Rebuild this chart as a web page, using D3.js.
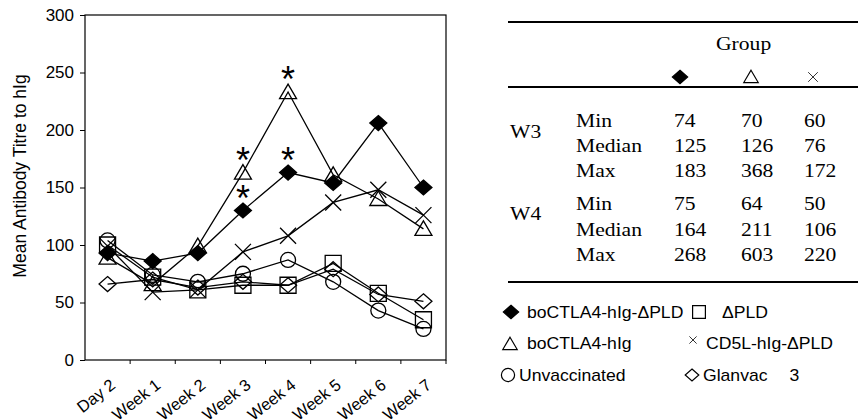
<!DOCTYPE html>
<html>
<head>
<meta charset="utf-8">
<title>Mean Antibody Titre to hIg</title>
<script src="https://cdn.jsdelivr.net/npm/d3@7"></script>
<style>
html, body { margin:0; padding:0; background:#fff; }
.sans { font-family: "Liberation Sans", Arial, sans-serif; }
.serif { font-family: "Liberation Serif", "Times New Roman", serif; }
</style>
</head>
<body>
<svg id="chart" width="861" height="420"></svg>
<script>
// time points on the x axis
var weeks = ["Day 2", "Week 1", "Week 2", "Week 3", "Week 4", "Week 5", "Week 6", "Week 7"];
var yTicks = [0, 50, 100, 150, 200, 250, 300];

// mean antibody titre per group
var ctlaPld   = [93, 86, 93, 130, 163, 154, 206, 150];  // filled diamond
var ctla      = [89, 66, 99, 163, 233, 161, 140, 114];  // triangle
var cd5lPld   = [99, 59, 61, 94, 108, 137, 148, 126];   // cross
var unvacc    = [104, 74, 68, 75, 87, 68, 43, 27];      // circle
var pld       = [100, 72, 61, 65, 65, 84, 58, 35];      // square
var glanvac   = [66, 70, 63, 68, 65, 79, 57, 51];       // open diamond

// weeks with a significance star
var starCtlaPld = ["Week 3", "Week 4"];
var starCtla = ["Week 3", "Week 4"];

// table beside the chart
var tableWeeks = ["W3", "W4"];
var statNames = ["Min", "Median", "Max"];
var w3Stats = [[74, 70, 60], [125, 126, 76], [183, 368, 172]];
var w4Stats = [[75, 64, 50], [164, 211, 106], [268, 603, 220]];

var series = [
	{ values: unvacc,  shape: "circle" },
	{ values: glanvac, shape: "dopen" },
	{ values: pld,     shape: "square" },
	{ values: cd5lPld, shape: "cross" },
	{ values: ctla,    shape: "tri" },
	{ values: ctlaPld, shape: "dfill" }
];

var svg = d3.select("#chart");
var x = d3.scaleBand().domain(weeks).range([85, 446]);
var y = d3.scaleLinear().domain([0, 300]).range([360, 15]);
function cx(w) { return x(w) + x.bandwidth() / 2; }

// marker outlines, s = scale factor
function shapePath(shape, s) {
	s = s || 1;
	if (shape == "dfill" || shape == "dopen")
		return "M0," + (-7.5*s) + "L" + (8.5*s) + ",0L0," + (7.5*s) + "L" + (-8.5*s) + ",0Z";
	if (shape == "tri")
		return "M0," + (-8*s) + "L" + (8.5*s) + "," + (6.5*s) + "L" + (-8.5*s) + "," + (6.5*s) + "Z";
	if (shape == "cross")
		return "M" + (-8*s) + "," + (-8*s) + "L" + (8*s) + "," + (8*s) + "M" + (-8*s) + "," + (8*s) + "L" + (8*s) + "," + (-8*s);
	if (shape == "square")
		return "M" + (-8*s) + "," + (-8*s) + "h" + (16*s) + "v" + (16*s) + "h" + (-16*s) + "Z";
	// circle
	var r = 7.5 * s;
	return "M" + (-r) + ",0a" + r + "," + r + " 0 1,0 " + (2*r) + ",0a" + r + "," + r + " 0 1,0 " + (-2*r) + ",0Z";
}
function drawMarker(g, shape, px, py, s, sw) {
	g.append("path")
		.attr("transform", "translate(" + px + "," + py + ")")
		.attr("d", shapePath(shape, s))
		.attr("fill", shape == "dfill" ? "#000" : "none")
		.attr("stroke", "#000")
		.attr("stroke-width", sw || 1.3);
}

// plot frame
svg.append("rect")
	.attr("x", 85).attr("y", 15)
	.attr("width", 446 - 85).attr("height", 345)
	.attr("fill", "none").attr("stroke", "#000").attr("stroke-width", 1.2);

// y axis
var yAxis = svg.append("g")
	.attr("transform", "translate(85,0)")
	.call(d3.axisLeft(y).tickValues(yTicks).tickSize(5).tickPadding(6));
yAxis.select(".domain").remove();
yAxis.selectAll("text").attr("class", "sans").attr("font-size", 17).attr("fill", "#000");

// x axis labels
var xAxis = svg.append("g")
	.attr("transform", "translate(0,360)")
	.call(d3.axisBottom(x).tickSize(0));
xAxis.select(".domain").remove();
xAxis.selectAll("text")
	.attr("class", "sans").attr("font-size", 16.5).attr("fill", "#000")
	.attr("text-anchor", "end")
	.attr("x", 9).attr("y", 27).attr("dy", 0)
	.attr("transform", "rotate(-38,9,27)");
// small ticks between categories
svg.append("g").selectAll("line")
	.data(weeks)
	.enter().append("line")
	.attr("x1", function(d) { return x(d) + x.bandwidth(); })
	.attr("x2", function(d) { return x(d) + x.bandwidth(); })
	.attr("y1", 360).attr("y2", 364)
	.attr("stroke", "#000").attr("stroke-width", 1);

// y title
svg.append("text")
	.attr("class", "sans")
	.attr("font-size", 17.5)
	.attr("text-anchor", "middle")
	.attr("transform", "translate(26,176) rotate(-90)")
	.text("Mean Antibody Titre to hIg");

// series
var line = d3.line()
	.x(function(d, i) { return cx(weeks[i]); })
	.y(function(d) { return y(d); });

series.forEach(function(s) {
	var g = svg.append("g");
	g.append("path")
		.attr("d", line(s.values))
		.attr("fill", "none").attr("stroke", "#000").attr("stroke-width", 1.3);
	s.values.forEach(function(v, i) {
		drawMarker(g, s.shape, cx(weeks[i]), y(v));
	});
});

// significance stars
function stars(list, vals) {
	list.forEach(function(w) {
		svg.append("text")
			.attr("class", "sans")
			.attr("font-size", 36)
			.attr("text-anchor", "middle")
			.attr("x", cx(w))
			.attr("y", y(vals[weeks.indexOf(w)]) + 0)
			.text("*");
	});
}
stars(starCtlaPld, ctlaPld);
stars(starCtla, ctla);

// ---- table ----
var tbl = svg.append("g");
[22, 87, 282].forEach(function(ry) {
	tbl.append("line")
		.attr("x1", 508).attr("x2", 858)
		.attr("y1", ry).attr("y2", ry)
		.attr("stroke", "#000").attr("stroke-width", 1.8);
});
function stext(px, py, t) {
	tbl.append("text")
		.attr("class", "serif")
		.attr("font-size", 18)
		.attr("transform", "translate(" + px + "," + py + ") scale(1.2,1)")
		.text(t);
}
var col = d3.scaleBand().domain([0, 1, 2]).range([674, 869]).align(0);
stext(716, 50, "Group");
drawMarker(tbl, "dfill", 680, 77, 0.9, 1.2);
drawMarker(tbl, "tri", 751, 77, 0.85, 1.2);
drawMarker(tbl, "cross", 813, 77, 0.6, 0.8);

var rowY = [[127, 152, 177], [210, 236, 261]];
var labY = [138, 220];
[w3Stats, w4Stats].forEach(function(stats, k) {
	stext(510, labY[k], tableWeeks[k]);
	stats.forEach(function(row, r) {
		stext(576, rowY[k][r], statNames[r]);
		row.forEach(function(v, c) {
			stext(col(c) + [0, 2, 0][c], rowY[k][r], v);
		});
	});
});

// ---- legend ----
var leg = svg.append("g");
function ltext(px, py, t) {
	return leg.append("text")
		.attr("class", "sans")
		.attr("font-size", 16)
		.attr("transform", "translate(" + px + "," + py + ") scale(1.1,1)")
		.text(t);
}
drawMarker(leg, "dfill", 511, 312, 0.9, 1.2);
ltext(527, 318, "boCTLA4-hIg-\u0394PLD");
drawMarker(leg, "square", 699, 312, 0.8, 1.2);
ltext(722, 318, "\u0394PLD");
drawMarker(leg, "tri", 510, 344, 0.85, 1.2);
ltext(527, 349, "boCTLA4-hIg");
drawMarker(leg, "cross", 693, 340, 0.45, 0.8);
ltext(706, 349, "CD5L-hIg-\u0394PLD");
drawMarker(leg, "circle", 508, 375, 0.88, 1.2);
ltext(519, 381, "Unvaccinated");
drawMarker(leg, "dopen", 692, 375, 0.8, 1.2);
var gl = ltext(703, 381, "Glanvac");
gl.append("tspan").attr("dx", 20).text("3");
</script>
</body>
</html>
